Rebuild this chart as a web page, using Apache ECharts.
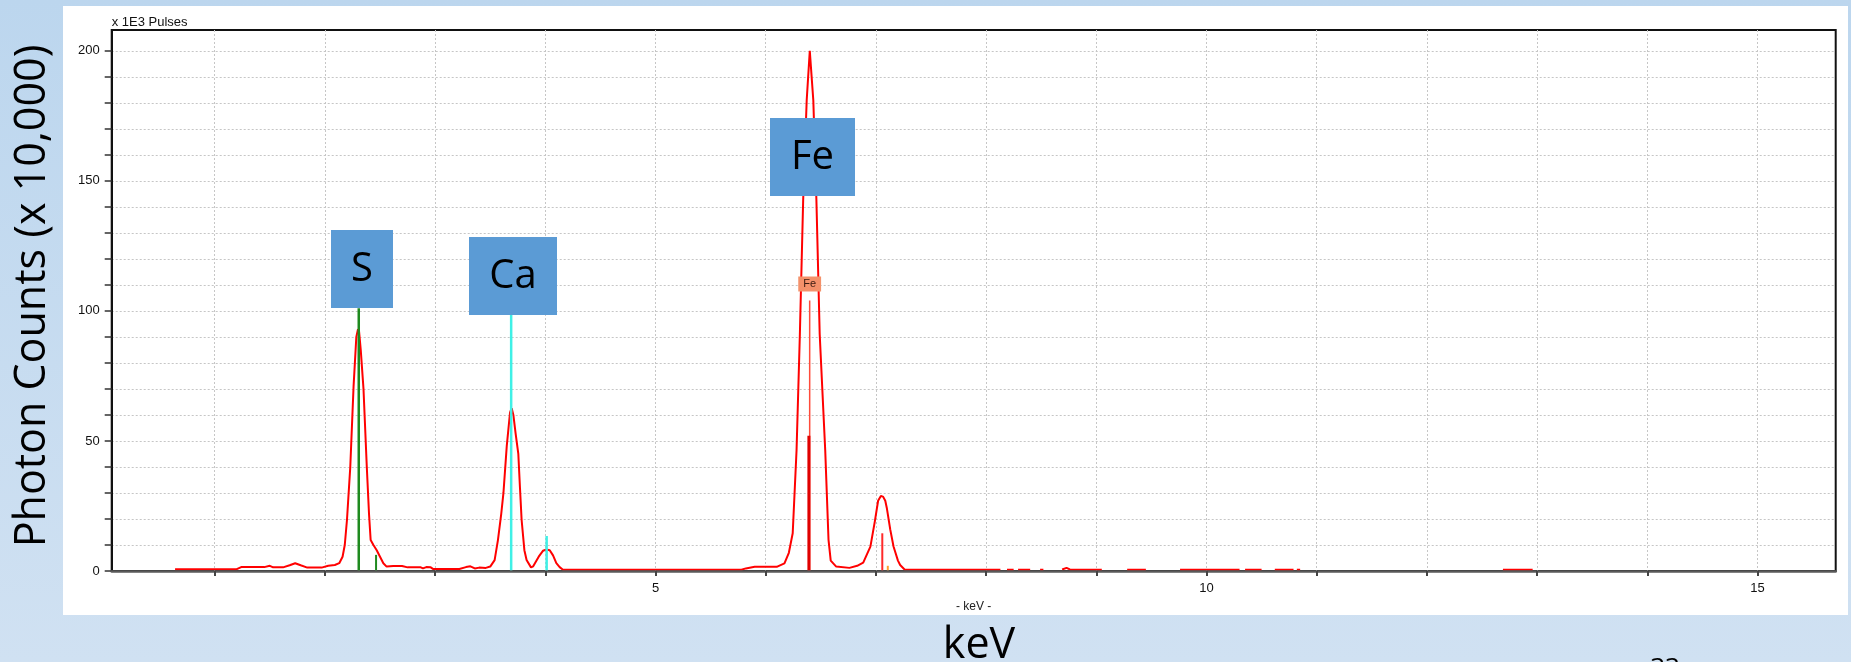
<!DOCTYPE html>
<html>
<head>
<meta charset="utf-8">
<title>EDS spectrum</title>
<script src="https://cdn.jsdelivr.net/npm/echarts@6/dist/echarts.min.js"></script>
<style>
  html, body { margin: 0; padding: 0; }
  #chart { width: 1851px; height: 662px; }
</style>
</head>
<body>
<div id="chart"></div>
<script>
// spectrum, x 1E3 pulses per channel (null = gap in the trace)
const spectrumKeV = [
  0.64, 0.90, 1.20, 1.24, 1.45, 1.50, 1.53, 1.62, 1.68, 1.73, 1.78, 1.84, 1.97, 2.03, 2.09, 2.13,
  2.16, 2.18, 2.20, 2.23, 2.26, 2.285, 2.30, 2.31, 2.325, 2.35, 2.38, 2.40, 2.415, 2.44, 2.47, 2.50,
  2.53, 2.56, 2.62, 2.70, 2.75, 2.87, 2.89, 2.92, 2.96, 2.98, 3.09, 3.22, 3.28, 3.32, 3.36, 3.40,
  3.46, 3.50, 3.54, 3.57, 3.60, 3.62, 3.65, 3.68, 3.695, 3.71, 3.73, 3.755, 3.77, 3.785, 3.81, 3.83,
  3.87, 3.89, 3.94, 3.98, 4.01, 4.04, 4.07, 4.10, 4.13, 4.16, 5.00, 5.78, 5.82, 5.90, 6.10, 6.17,
  6.21, 6.245, 6.28, 6.31, 6.34, 6.372, 6.40, 6.432, 6.46, 6.49, 6.54, 6.57, 6.59, 6.64, 6.76, 6.83,
  6.885, 6.95, 6.99, 7.02, 7.045, 7.065, 7.085, 7.10, 7.13, 7.16, 7.20, 7.22, 7.26, 8.13, 8.16, 8.19,
  8.25, 8.27, 8.29, 8.40, 8.43, 8.49, 8.52, 8.55, 8.69, 8.73, 8.76, 9.05, 9.10, 9.28, 9.45, 9.50,
  9.76, 10.30, 10.32, 10.35, 10.50, 10.55, 10.62, 10.79, 10.80, 10.82, 10.85, 10.90, 12.69, 12.96
];
const spectrumCounts = [
  0.7, 0.7, 0.7, 1.5, 1.5, 2.0, 1.4, 1.4, 2.2, 3.0, 2.2, 1.3, 1.3, 2.0, 2.3, 3.0,
  5.5, 10, 19.6, 40, 71, 90, 93, 92, 85, 70, 40, 22, 11.9, 10, 8.0, 5.5,
  3.0, 1.7, 1.9, 1.9, 1.4, 1.4, 1.0, 1.5, 1.4, 0.8, 0.8, 0.8, 1.5, 1.8, 1.0, 1.3,
  1.2, 1.7, 4.2, 11.9, 22, 30, 48, 61, 62.6, 60, 53, 45, 32, 19.6, 8, 4.2,
  1.4, 1.8, 5.5, 7.8, 8.3, 8.0, 6.0, 3.0, 1.5, 0.5, 0.5, 0.5, 1.0, 1.6, 1.6, 2.9,
  7, 14.5, 46.5, 91, 142.7, 181, 200, 181, 142.7, 91, 46.5, 12, 4, 1.7, 1.2, 2.0,
  3.2, 9.4, 19, 27, 28.8, 28.6, 27, 24, 16, 9.4, 4, 2.3, 0.6, 0.5, null, 0.5,
  0.5, null, 0.5, 0.5, null, 0.5, 0.5, null, 0.6, 1.2, 0.6, 0.5, null, 0.5, 0.5, null,
  0.5, 0.5, null, 0.5, 0.5, null, 0.5, 0.5, null, 0.5, 0.5, null, 0.5, 0.5
];

// element lines: S Ka, S Kb, Ca Ka, Ca Kb, Fe Ka1, Fe Ka2, Fe Kb1, Fe Kb3
const markerKeV = [2.307, 2.464, 3.690, 4.012, 6.399, 6.392, 7.058, 7.108];
const markerTop = [101, 6.2, 99, 13.5, 104, 52, 14.5, 2];

// axis ticks and labels
const xTickValues = [1, 2, 3, 4, 5, 6, 7, 8, 9, 10, 11, 12, 13, 14, 15];
const xLabelValues = [5, 10, 15];
const yTickValues = [0, 10, 20, 30, 40, 50, 60, 70, 80, 90, 100, 110, 120, 130, 140, 150, 160, 170, 180, 190, 200];
const yLabelValues = [0, 50, 100, 150, 200];

// slide labels
const boxLabels = ['S', 'Ca', 'Fe'];

const markerStyle = [
  { color: '#1f8a1f', width: 2.5 },
  { color: '#1f8a1f', width: 2 },
  { color: '#3ff0e6', width: 2.5 },
  { color: '#3ff0e6', width: 2.5 },
  { color: '#ff4a3a', width: 1.5 },
  { color: '#e00000', width: 3 },
  { color: '#ff2a2a', width: 2 },
  { color: '#ffa030', width: 2 },
];
const boxRects = [
  { x: 331, y: 230, w: 62, h: 78 },
  { x: 469, y: 237, w: 88, h: 78 },
  { x: 770, y: 118, w: 85, h: 78 },
];

const tickFont = 'Liberation Sans, Arial, sans-serif';
const slideFont = '"Open Sans", "Noto Sans", sans-serif';

const chart = echarts.init(document.getElementById('chart'));

const markerSeries = markerKeV.map((x, i) => ({
  type: 'line',
  data: i === 4
    ? [[x, 0], { value: [x, markerTop[i]], label: { show: true } }]
    : [[x, 0], [x, markerTop[i]]],
  symbol: 'circle',
  symbolSize: 0.01,
  showSymbol: true,
  silent: true,
  lineStyle: { color: markerStyle[i].color, width: markerStyle[i].width },
  itemStyle: { color: markerStyle[i].color },
  label: {
    show: false,
    formatter: 'Fe',
    position: 'top',
    distance: 9,
    backgroundColor: '#f4916a',
    color: '#3a1a10',
    fontFamily: tickFont,
    fontSize: 11,
    lineHeight: 13,
    padding: [1, 5, 1, 5],
  },
  z: 4,
}));

const boxGraphics = [];
boxRects.forEach((b, i) => {
  boxGraphics.push({
    type: 'rect', z: 100,
    shape: { x: b.x, y: b.y, width: b.w, height: b.h },
    style: { fill: '#5b9bd5' },
  });
  boxGraphics.push({
    type: 'text', z: 101,
    x: b.x + b.w / 2, y: b.y + b.h / 2 + 1,
    style: { text: boxLabels[i], font: '40px ' + slideFont, fill: '#000', align: 'center', verticalAlign: 'middle' },
  });
});

chart.setOption({
  animation: false,
  backgroundColor: {
    type: 'linear', x: 0, y: 0, x2: 0, y2: 1,
    colorStops: [{ offset: 0, color: '#bcd6ee' }, { offset: 1, color: '#d0e1f2' }],
  },
  graphic: [
    { type: 'rect', z: -100, shape: { x: 63, y: 6, width: 1785, height: 609 }, style: { fill: '#ffffff' } },
    {
      type: 'text', z: 10, x: 33, y: 296, rotation: Math.PI / 2,
      style: { text: 'Photon Counts (x 10,000)', font: '43px ' + slideFont, fill: '#000', align: 'center', verticalAlign: 'middle' },
    },
    {
      type: 'text', z: 10, x: 979, y: 646,
      style: { text: 'keV', font: '43px ' + slideFont, fill: '#000', align: 'center', verticalAlign: 'middle' },
    },
    {
      type: 'text', z: 10, x: 1665, y: 669,
      style: { text: '33', font: '26px ' + slideFont, fill: '#000', align: 'center', verticalAlign: 'middle' },
    },
    ...boxGraphics,
  ],
  grid: {
    left: 111.7, right: 15.3, top: 30, bottom: 91,
    show: true, borderColor: '#111', borderWidth: 2, backgroundColor: 'transparent',
  },
  xAxis: [
    {
      type: 'value', min: 0.065, max: 15.71,
      axisLine: { show: false },
      axisTick: { show: false, customValues: xTickValues },
      axisLabel: { show: false },
      splitLine: { show: true, lineStyle: { color: '#c6c6c6', type: [2, 2], width: 1 } },
    },
    {
      type: 'value', min: 0.065, max: 15.71, position: 'bottom', z: 5,
      name: '- keV -', nameLocation: 'middle', nameGap: 30,
      nameTextStyle: { fontFamily: tickFont, fontSize: 12, color: '#222' },
      axisLine: { show: true, lineStyle: { color: '#5a5a5a', width: 2.5 } },
      axisTick: { show: true, customValues: xTickValues, length: 5, lineStyle: { color: '#444', width: 2 } },
      axisLabel: { customValues: xLabelValues, margin: 11, fontFamily: tickFont, fontSize: 13, color: '#111' },
      splitLine: { show: false },
    },
  ],
  yAxis: {
    type: 'value', min: 0, max: 208,
    name: 'x 1E3 Pulses', nameLocation: 'end', nameGap: 8,
    nameTextStyle: { fontFamily: tickFont, fontSize: 13, color: '#111', align: 'left', verticalAlign: 'middle' },
    axisLine: { show: true, lineStyle: { color: '#111', width: 2 } },
    axisTick: { show: true, customValues: yTickValues, length: 7, lineStyle: { color: '#333', width: 1.5 } },
    axisLabel: { customValues: yLabelValues, margin: 12, fontFamily: tickFont, fontSize: 13, color: '#111' },
    splitLine: { show: true, lineStyle: { color: '#c6c6c6', type: [2, 2], width: 1 } },
  },
  series: [
    {
      type: 'line',
      data: spectrumKeV.map((k, i) => [k, spectrumCounts[i]]),
      connectNulls: false,
      symbol: 'none',
      silent: true,
      lineStyle: { color: '#ff0000', width: 2 },
      z: 3,
    },
    ...markerSeries,
  ],
});
</script>
</body>
</html>
